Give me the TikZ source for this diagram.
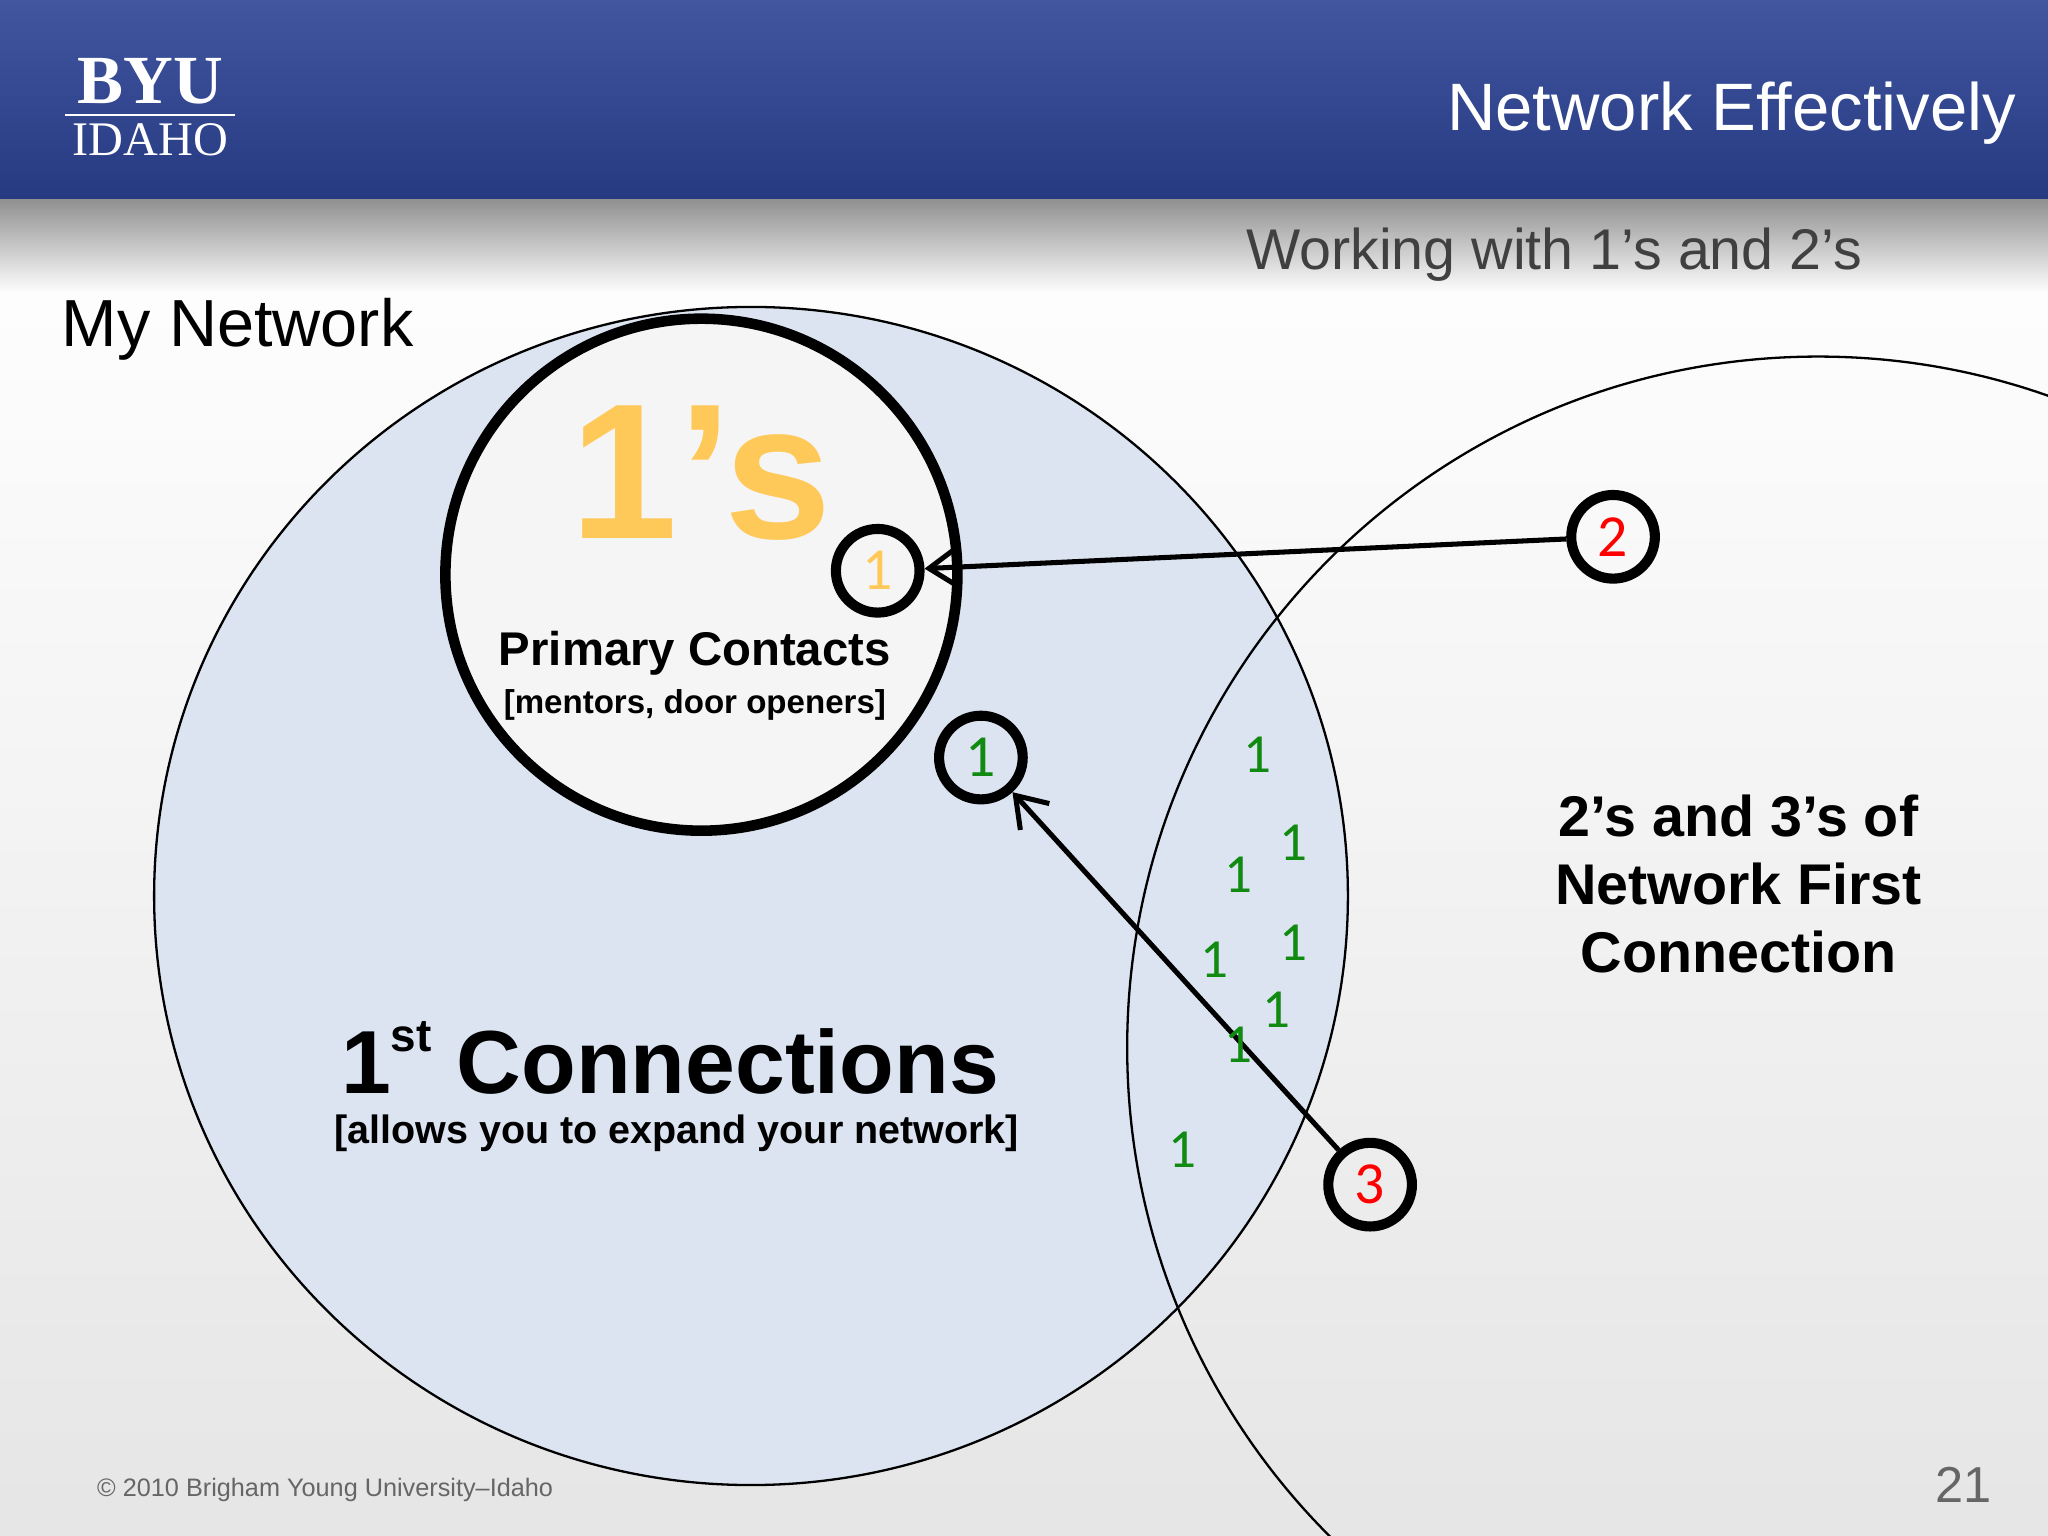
\documentclass[tikz,border=0pt]{standalone}
\usepackage{fontspec}
\setmainfont{Liberation Sans}
\newfontfamily\carfont{Carlito}
\newfontfamily\logofont{Liberation Serif}
\usetikzlibrary{arrows.meta}
\definecolor{hdrA}{HTML}{41569F}
\definecolor{hdrB}{HTML}{263A82}
\definecolor{bluefill}{HTML}{DCE4F2}
\definecolor{orng}{HTML}{FFC95A}
\definecolor{grn}{HTML}{108A10}
\tikzset{
 small/.style={circle,draw=black,line width=2.2pt,minimum size=0.64cm,inner sep=0pt,font=\carfont\fontsize{13}{13}\selectfont},
 one/.style={text=grn,font=\carfont\fontsize{12}{12}\selectfont},
 conn/.style={line width=1.1pt,-{Straight Barb[open,length=2.2mm,width=3mm]}}
}
\begin{document}
\begin{tikzpicture}[x=0.01cm,y=-0.01cm]
\useasboundingbox (0,0) rectangle (1568,1176);
\shade[top color=white,bottom color=black!10] (0,150) rectangle (1568,1176);
\shade[top color=black!45,bottom color=white] (0,150) rectangle (1568,225);
\shade[top color=hdrA,bottom color=hdrB] (0,0) rectangle (1568,152);
\node[text=white,font=\logofont\bfseries\fontsize{15}{15}\selectfont] (byu) at (115,62) {BYU};
\draw[white,line width=0.6pt] (50,88) -- (180,88);
\node[text=white,font=\logofont\fontsize{10.5}{10.5}\selectfont] (idaho) at (115,107) {IDAHO};
\node[text=white,anchor=east,font=\fontsize{14.6}{14.6}\selectfont] (title) at (1556,87) {Network Effectively};
\node[text=black!75,font=\fontsize{12.5}{12.5}\selectfont] (sub) at (1190,195) {Working with 1’s and 2’s};
\node[font=\fontsize{14.5}{14.5}\selectfont,anchor=west] (my) at (35,252) {My Network};
\draw[fill=bluefill,line width=0.5pt] (575,686) ellipse (457 and 451);
\begin{scope}
\clip (0,150) rectangle (1568,1176);
\draw[line width=0.5pt] (1392,802) circle (529);
\end{scope}
\draw[fill=black!4,line width=2.3pt] (537,440) circle (196);
\node[text=orng,font=\bfseries\fontsize{42}{42}\selectfont] (ones) at (537,362) {1’s};
\node[font=\bfseries\fontsize{10.3}{10.3}\selectfont] (pc) at (532,500) {Primary Contacts};
\node[font=\bfseries\fontsize{7.2}{7.2}\selectfont] (pcs) at (532,540) {[mentors, door openers]};
\node[small,text=orng] (c1) at (672,437) {1};
\node[small,text=grn] (g1) at (751,580) {1};
\node[small,text=red] (c2) at (1235,411) {2};
\node[small,text=red] (c3) at (1049,907) {3};
\draw[conn] (c2) -- (c1);
\draw[conn] (c3) -- (g1);
\foreach \p/\n in {{963,578}/a,{990,645}/b,{948,670}/c,{990,722}/d,{930,735}/e,{977,773}/f,{948,800}/g,{905,880}/h}
  \node[one] (o\n) at (\p) {1};
\node[font=\bfseries\fontsize{19.5}{19.5}\selectfont] (fc) at (513,810) {1\raisebox{0.9ex}{\fontsize{10}{10}\selectfont st} Connections};
\node[font=\bfseries\fontsize{8.6}{8.6}\selectfont] (fcs) at (518,868) {[allows you to expand your network]};
\node[font=\bfseries\fontsize{12.5}{14.8}\selectfont,align=center] (tt) at (1331,677) {2’s and 3’s of\\Network First\\Connection};
\node[text=black!60,font=\fontsize{5.5}{6}\selectfont,anchor=west] (cp) at (62,1141) {© 2010 Brigham Young University–Idaho};
\node[text=black!60,font=\fontsize{11}{11}\selectfont] (pg) at (1503,1137) {21};
\end{tikzpicture}
\end{document}
